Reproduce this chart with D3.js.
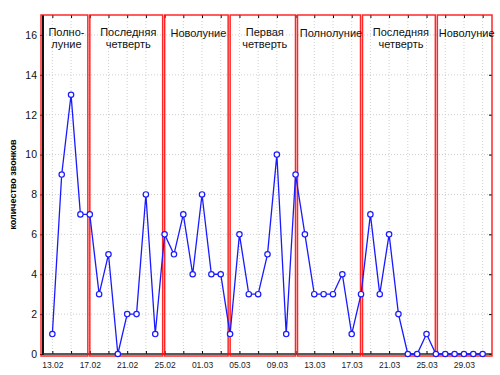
<!DOCTYPE html>
<html>
<head>
<meta charset="utf-8">
<script src="https://cdnjs.cloudflare.com/ajax/libs/d3/7.8.5/d3.min.js"></script>
<style>
  body { margin: 0; background: #fff; }
  text { font-family: "Liberation Sans", Arial, sans-serif; }
</style>
</head>
<body>
<script>
// daily counts starting 13.02
const startDay = "13.02.2013";
const calls = [1, 9, 13, 7, 7, 3, 5, 0, 2, 2, 8, 1,
               6, 5, 7, 4, 8, 4, 4, 1,
               6, 3, 3, 5, 10, 1, 9,
               6, 3, 3, 3, 4, 1, 3,
               7, 3, 6, 2, 0, 0, 1, 0,
               0, 0, 0, 0, 0];
const tickLabels = ["13.02", "17.02", "21.02", "25.02", "01.03", "05.03",
                    "09.03", "13.03", "17.03", "21.03", "25.03", "29.03"];
const yTicks = [0, 2, 4, 6, 8, 10, 12, 14, 16];
// moon phase periods, bounds in days from 13.02
const phaseNames = [["Полно-", "луние"], ["Последняя", "четверть"], ["Новолуние"],
                    ["Первая", "четверть"], ["Полнолуние"], ["Последняя", "четверть"],
                    ["Новолуние"]];
const phaseBounds = [-1, 3.9, 11.9, 18.9, 26.1, 33.05, 41.05, 47];
const yLabel = "количество звонков";

const w = 500;
const h = 375;
const margin = {top: 15, right: 8, bottom: 21, left: 43};

const parseDay = d3.timeParse("%d.%m.%Y");
const fmt = d3.timeFormat("%d.%m");
const t0 = parseDay(startDay);
const data = calls.map((v, i) => ({date: d3.timeDay.offset(t0, i), value: v}));
const tickDates = tickLabels.map(s => parseDay(s + ".2013"));
const gridDates = d3.timeDay.range(d3.timeDay.offset(t0, -1), d3.timeDay.offset(t0, 48))
                    .filter((d, i) => i % 2 === 1);
const boundDate = b => d3.timeMinute.offset(t0, Math.round(b * 1440));

const x = d3.scaleTime()
            .domain([d3.timeDay.offset(t0, -1), d3.timeDay.offset(t0, 47)])
            .range([margin.left, w - margin.right]);
const y = d3.scaleLinear()
            .domain([0, 17])
            .range([h - margin.bottom, margin.top]);

const svg = d3.select("body")
              .append("svg")
              .attr("width", w)
              .attr("height", h)

// grid
svg.append("g")
   .selectAll("line")
   .data(gridDates)
   .enter()
   .append("line")
   .attr("x1", d => x(d)).attr("x2", d => x(d))
   .attr("y1", y(17)).attr("y2", y(0))
   .attr("stroke", "#cfcfcf")
   .attr("stroke-dasharray", "1,2")
svg.append("g")
   .selectAll("line")
   .data(yTicks.slice(1))
   .enter()
   .append("line")
   .attr("x1", x.range()[0]).attr("x2", x.range()[1])
   .attr("y1", d => y(d)).attr("y2", d => y(d))
   .attr("stroke", "#cfcfcf")
   .attr("stroke-dasharray", "1,2")

// axes
const xAxis = svg.append("g")
                 .attr("transform", "translate(0," + y(0) + ")")
                 .call(d3.axisBottom(x).tickValues(tickDates).tickFormat(fmt).tickSize(0).tickPadding(8))
      xAxis.select(".domain").remove()
      xAxis.selectAll("text").style("font-size", "8.5px").attr("fill", "#222")

svg.append("g")
   .attr("transform", "translate(0," + y(0) + ")")
   .call(d3.axisBottom(x).tickValues(gridDates).tickFormat("").tickSize(-3))
   .call(g => g.select(".domain").remove())
svg.append("g")
   .attr("transform", "translate(0," + y(17) + ")")
   .call(d3.axisTop(x).tickValues(gridDates).tickFormat("").tickSize(-3))
   .call(g => g.select(".domain").remove())
svg.append("g")
   .attr("transform", "translate(" + x.range()[1] + ",0)")
   .call(d3.axisRight(y).tickValues(yTicks).tickFormat("").tickSize(-3))
   .call(g => g.select(".domain").remove())

const yAxis = svg.append("g")
                 .attr("transform", "translate(" + margin.left + ",0)")
                 .call(d3.axisLeft(y).tickValues(yTicks).tickSize(3).tickPadding(3))
      yAxis.select(".domain").remove()
      yAxis.selectAll("text").style("font-size", "10.5px").attr("fill", "#111")

svg.append("line")
   .attr("x1", margin.left).attr("x2", margin.left)
   .attr("y1", y(17)).attr("y2", y(0) + 1)
   .attr("stroke", "#111").attr("stroke-width", 2)
svg.append("line")
   .attr("x1", margin.left).attr("x2", x.range()[1])
   .attr("y1", y(0)).attr("y2", y(0))
   .attr("stroke", "#222").attr("stroke-width", 1.6)

svg.append("text")
   .attr("transform", "translate(16," + y(8.5) + ") rotate(-90)")
   .attr("text-anchor", "middle")
   .style("font-size", "9px")
   .style("font-weight", "bold")
   .text(yLabel)

// moon phase boxes
const phases = phaseNames.map((n, i) => ({
    name: n,
    x0: x(boundDate(phaseBounds[i])) + (i === 0 ? -2 : 1),
    x1: x(boundDate(phaseBounds[i + 1])) - (i === phaseNames.length - 1 ? 0 : 1)
}));
const box = svg.append("g")
               .selectAll("g")
               .data(phases)
               .enter()
               .append("g")
      box.append("rect")
         .attr("x", d => d.x0)
         .attr("y", y(17))
         .attr("width", d => d.x1 - d.x0)
         .attr("height", y(0) - y(17) + 2)
         .attr("fill", "none")
         .attr("stroke", "#ff1010")
         .attr("stroke-width", 1.5)
         .attr("stroke-opacity", 0.9)
      box.append("text")
         .attr("text-anchor", "middle")
         .style("font-size", "11px")
         .attr("fill", "#111")
         .selectAll("tspan")
         .data(d => d.name.map(s => ({s: s, cx: (d.x0 + d.x1) / 2 + 2, n: d.name.length})))
         .enter()
         .append("tspan")
         .attr("x", d => d.cx)
         .attr("y", (d, i) => d.n === 1 ? 37 : 36 + i * 12)
         .text(d => d.s)

// series
const line = d3.line()
               .x(d => x(d.date))
               .y(d => y(d.value))
svg.append("path")
   .datum(data)
   .attr("d", line)
   .attr("fill", "none")
   .attr("stroke", "#1a1aff")
   .attr("stroke-width", 1.3)
svg.append("g")
   .selectAll("circle")
   .data(data)
   .enter()
   .append("circle")
   .attr("cx", d => x(d.date))
   .attr("cy", d => y(d.value))
   .attr("r", 2.7)
   .attr("fill", "#fff")
   .attr("stroke", "#1a1aff")
   .attr("stroke-width", 1.2)
</script>
</body>
</html>
